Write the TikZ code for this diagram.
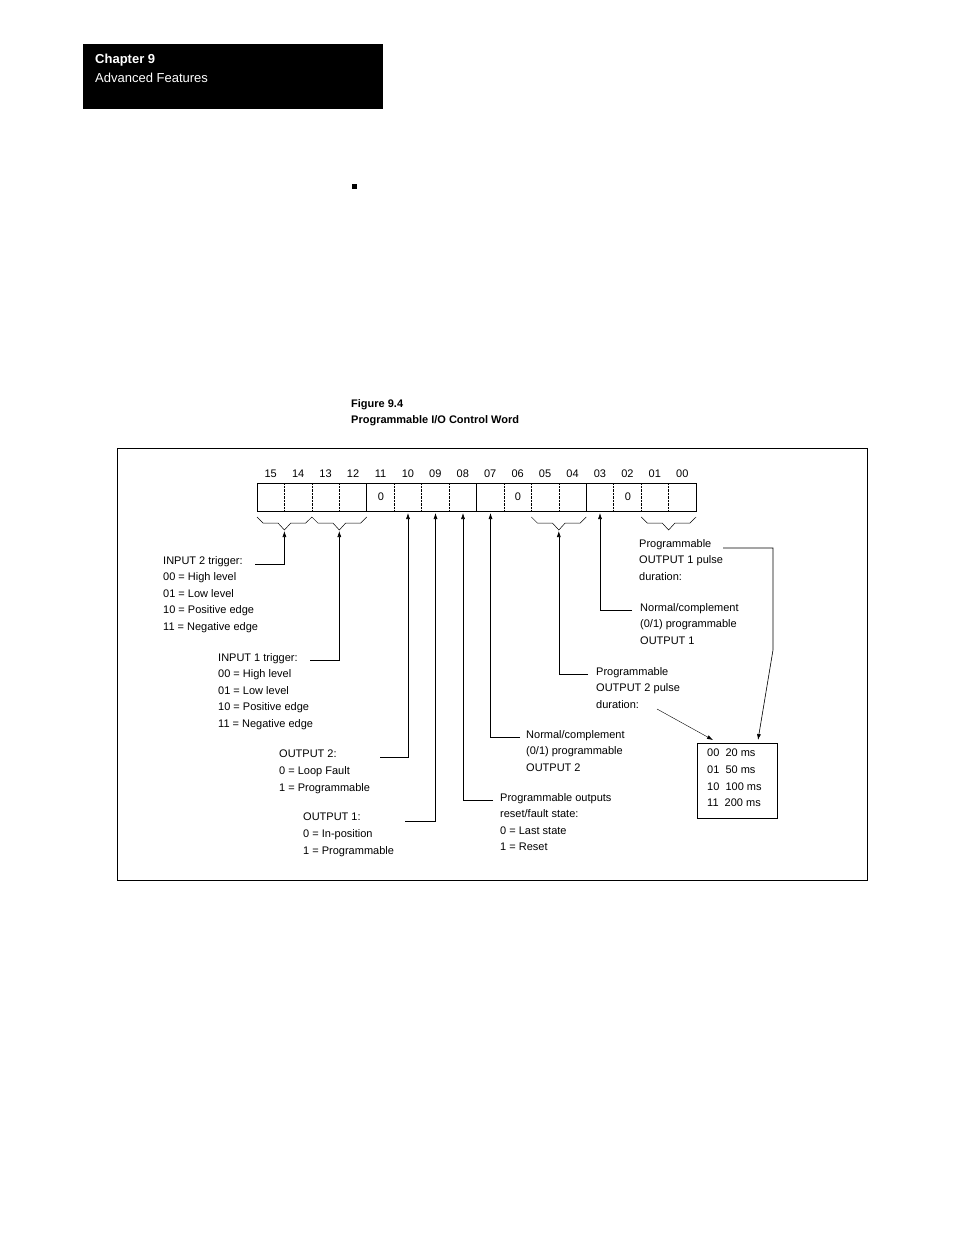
\documentclass[tikz,border=0pt]{standalone}
\usepackage{fontspec}
\setmainfont{Liberation Sans}
\usetikzlibrary{arrows.meta}
\begin{document}
\begin{tikzpicture}[x=1pt,y=-1pt,
  lbl/.style={anchor=north west,inner sep=0pt,align=left,font=\fontsize{11}{16.6}\selectfont},
  bit/.style={inner sep=0pt,font=\fontsize{11}{13}\selectfont},
  ln/.style={line width=0.6pt},
  arr/.style={ln,-{Latex[length=6pt,width=4pt]}}]
\useasboundingbox (0,0) rectangle (954,1235);
\fill[black] (83,44) rectangle (383,109);
\node[anchor=west,inner sep=0pt,text=white,font=\fontsize{13}{15}\bfseries\selectfont] (ch) at (95,60) {Chapter 9};
\node[anchor=west,inner sep=0pt,text=white,font=\fontsize{13}{15}\selectfont] (af) at (95,78) {Advanced Features};
\fill (352,184) rectangle (357,189);
\node[anchor=west,inner sep=0pt,font=\fontsize{11}{13}\bfseries\selectfont] (f1) at (351,405) {Figure 9.4};
\node[anchor=west,inner sep=0pt,font=\fontsize{11}{13}\bfseries\selectfont] (f2) at (351,421) {Programmable I/O Control Word};
\draw[ln] (117,448) rectangle (867,880);
% bit box
\draw[ln] (257,483) rectangle (696,511);
\foreach \i in {1,...,15}{
  \pgfmathsetmacro\xx{257+\i*27.4375}
  \ifnum\i=4 \draw[ln] (\xx,483)--(\xx,511);
  \else\ifnum\i=8 \draw[ln] (\xx,483)--(\xx,511);
  \else\ifnum\i=12 \draw[ln] (\xx,483)--(\xx,511);
  \else \draw[densely dotted,line width=0.4pt] (\xx,483)--(\xx,511);
  \fi\fi\fi}
\foreach \i/\t in {0/15,1/14,2/13,3/12,4/11,5/10,6/09,7/08,8/07,9/06,10/05,11/04,12/03,13/02,14/01,15/00}{
  \pgfmathsetmacro\xx{257+(\i+0.5)*27.4375}
  \node[bit] (b\t) at (\xx,474) {\t};}
\node[bit] (z11) at (381,497) {0};
\node[bit] (z06) at (518,497) {0};
\node[bit] (z02) at (628,497) {0};
% braces
\foreach \a in {257,311.9,531.4,641.2}{
  \draw[line width=0.5pt] (\a,517)--(\a+6,523)--(\a+21,523)--(\a+27.4,530)--(\a+33.8,523)--(\a+48.8,523)--(\a+54.9,517);}
\coordinate (ap1) at (284.4,531);
\coordinate (ap2) at (339.3,531);
\coordinate (ap3) at (558.8,531);
% labels
\node[lbl] (in2) at (163,556) {INPUT 2 trigger:\\00 = High level\\01 = Low level\\10 = Positive edge\\11 = Negative edge};
\node[lbl] (in1) at (218,653) {INPUT 1 trigger:\\00 = High level\\01 = Low level\\10 = Positive edge\\11 = Negative edge};
\node[lbl] (o2) at (279,750) {OUTPUT 2:\\0 = Loop Fault\\1 = Programmable};
\node[lbl] (o1) at (303,813) {OUTPUT 1:\\0 = In-position\\1 = Programmable};
\node[lbl] (rf) at (500,793) {Programmable outputs\\reset/fault state:\\0 = Last state\\1 = Reset};
\node[lbl] (nc2) at (526,730) {Normal/complement\\(0/1) programmable\\OUTPUT 2};
\node[lbl] (p2) at (596,667) {Programmable\\OUTPUT 2 pulse\\duration:};
\node[lbl] (nc1) at (640,603) {Normal/complement\\(0/1) programmable\\OUTPUT 1};
\node[lbl] (p1) at (639,539) {Programmable\\OUTPUT 1 pulse\\duration:};
\draw[ln] (697,743) rectangle (777,818);
\node[lbl] (tb) at (707,749) {00\ \ 20 ms\\01\ \ 50 ms\\10\ \ 100 ms\\11\ \ 200 ms};
% connectors
\draw[arr] (255,564)--(284.4,564)--(ap1);
\draw[arr] (310,660)--(339.3,660)--(ap2);
\draw[arr] (380,757)--(408,757)--(408,513);
\draw[arr] (405,821)--(435.5,821)--(435.5,513);
\draw[arr] (493,800)--(463,800)--(463,513);
\draw[arr] (520,737)--(490.5,737)--(490.5,513);
\draw[arr] (588,674)--(558.8,674)--(ap3);
\draw[arr] (632,610)--(600,610)--(600,513);
\draw[arr] (723,548)--(773,548)--(773,650)--(758,740);
\draw[arr,line width=0.4pt] (657,709)--(713,740);
\end{tikzpicture}
\end{document}
